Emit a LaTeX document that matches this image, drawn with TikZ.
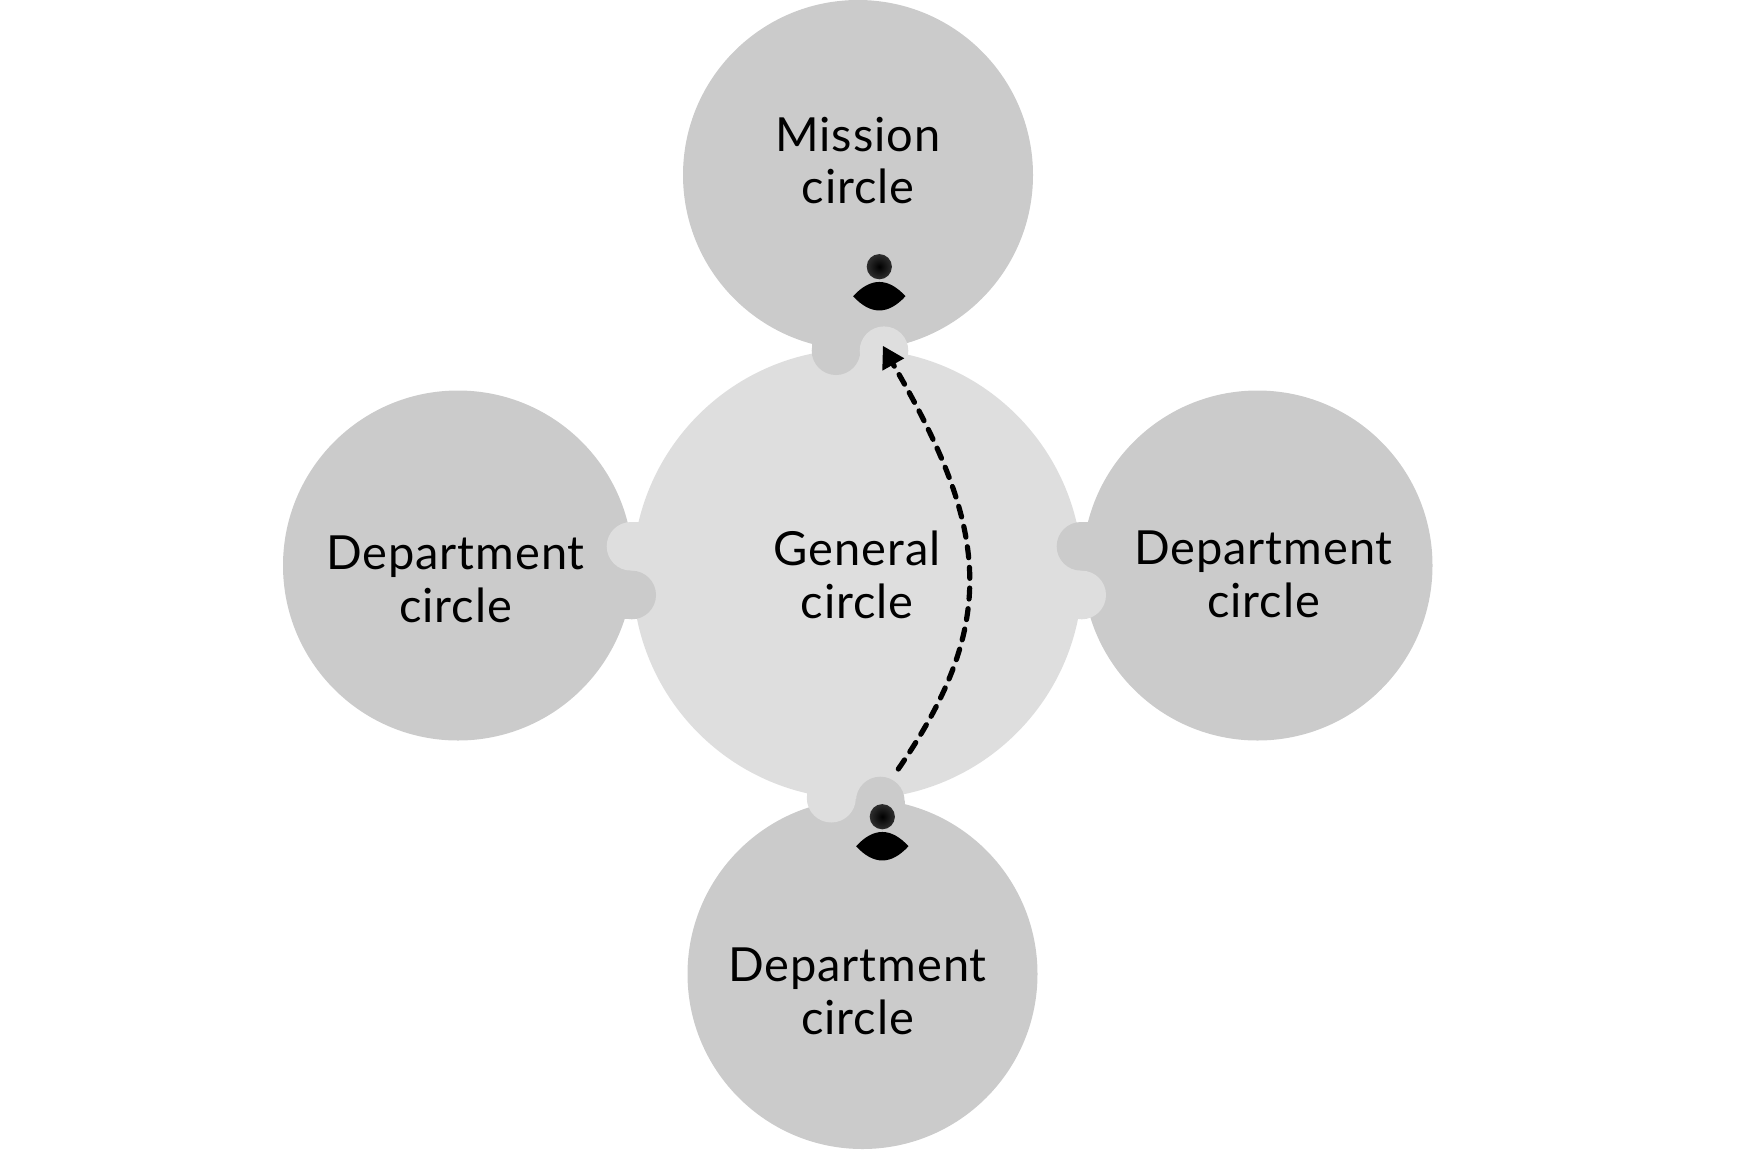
\documentclass[tikz,border=0pt]{standalone}
\usepackage{fontspec}
\setmainfont{Lato}[LetterSpace=1.9]
\usetikzlibrary{arrows.meta}
\definecolor{darkc}{HTML}{CBCBCB}
\definecolor{lightc}{HTML}{DEDEDE}
\tikzset{
  x=1pt,y=-1pt,
  lab/.style={align=center,inner sep=0pt,text=black,font=\fontsize{47}{52.7}\selectfont},
  disc/.style={circle,inner sep=0pt,minimum size=350pt,fill=darkc},
  hub/.style={circle,inner sep=0pt,minimum size=450pt,fill=lightc},
  darkp/.style={fill=darkc},
  lightp/.style={fill=lightc},
  flow/.style={line width=5.2pt,line cap=round,dash pattern=on 11pt off 9.7pt},
}
\newcommand{\personfig}[2]{%
  \shade[inner color=black,outer color=black!82] (#1,#2) circle[radius=12.6];
  \fill[black] (#1-26.2,#2+29.5) .. controls (#1-8.7,#2+10.5) and (#1+8.7,#2+10.5) .. (#1+26.2,#2+29.5)
     .. controls (#1+8.7,#2+48.5) and (#1-8.7,#2+48.5) .. cycle;
}
\begin{document}
\begin{tikzpicture}
\useasboundingbox (0,0) rectangle (1748,1149);
\node[hub] (gen) at (857.5,574) {};
\node[disc] (mis) at (858,175) {};
\node[disc] (dl) at (458,565.5) {};
\node[disc] (dr) at (1257.5,565.5) {};
\node[disc] (db) at (862.5,974) {};
% top joint
\fill[darkp] (811.7,325) rectangle (860,350.7);
\fill[darkp] (836,350.7) circle[radius=24.3];
\fill[lightp] (860,350.7) rectangle (908.3,375);
\fill[lightp] (884,350.7) circle[radius=24.3];
% bottom joint
\fill[lightp] (806.7,770) rectangle (856,798);
\fill[lightp] (831.3,798) circle[radius=24.5];
\fill[darkp] (856,801) rectangle (904.7,830);
\fill[darkp] (880.3,801) circle[radius=24.3];
% left joint
\fill[lightp] (631,522) rectangle (665,570.7);
\fill[lightp] (631,546.3) circle[radius=24.3];
\fill[darkp] (610,570.7) rectangle (631.7,619.3);
\fill[darkp] (631.7,595) circle[radius=24.3];
% right joint
\fill[darkp] (1081,522) rectangle (1110,570.7);
\fill[darkp] (1081,546.3) circle[radius=24.3];
\fill[lightp] (1050,570.7) rectangle (1081.7,619.3);
\fill[lightp] (1081.7,595) circle[radius=24.3];
% persons
\personfig{879.3}{266.7}
\personfig{882.3}{816.7}
% labels
\node[lab] (tm) at (858,160.5) {Mission\\circle};
\node[lab] (tg) at (857.2,575) {General\\circle};
\node[lab] (tl) at (455.5,579.5) {Department\\circle};
\node[lab] (tr) at (1263.5,574) {Department\\circle};
\node[lab] (tb) at (857.5,991.5) {Department\\circle};
% connector
\coordinate (from) at (898.3,769);
\coordinate (to) at (883,346);
\draw[flow] (from) .. controls (1000.6,621) and (988,527) .. (893,364);
\fill[black] (to) -- (904.3,358.3) -- (882.3,370.7) -- cycle;
\end{tikzpicture}
\end{document}
